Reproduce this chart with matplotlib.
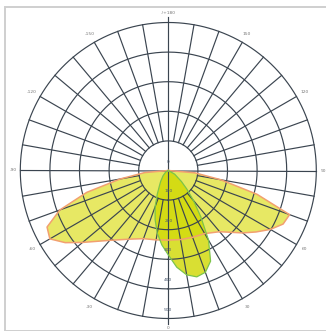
import matplotlib
matplotlib.use("Agg")
import matplotlib.pyplot as plt
from matplotlib.patches import Rectangle
import numpy as np

# C0-C180 plane (wide batwing), gamma in degrees, negative = left side
gamma_wide = [-90, -85, -80, -75, -70, -65, -60, -55, -50, -40, -30, -20, -10, 0,
              10, 20, 30, 40, 50, 55, 60, 65, 70, 75, 80, 85, 90]
int_wide = [0, 80, 165, 285, 390, 452, 462, 425, 378, 308, 268, 245, 238, 235,
            237, 240, 246, 270, 328, 362, 398, 428, 436, 310, 180, 90, 0]

# C90-C270 plane (narrow lobe)
gamma_narrow = [-90, -60, -45, -35, -30, -25, -20, -15, -10, -5, 0, 5, 10, 15,
                20, 25, 30, 35, 40, 45, 50, 60, 90]
int_narrow = [0, 10, 25, 45, 60, 88, 130, 172, 215, 252, 285, 328, 358, 372,
              366, 338, 272, 192, 132, 88, 58, 25, 0]

ring_values = [100, 200, 300, 400, 500]
ring_labels = ["100", "200", "300", "400", "500"]
angle_ticks = [180, -150, 150, -120, 120, -90, 90, -60, 60, -30, 30, 0]
angle_labels = ["-/+180", "-150", "150", "-120", "120", "-90", "90",
                "-60", "60", "-30", "30", "0"]

W, H = 326, 331
fig = plt.figure(figsize=(W / 100, H / 100), dpi=100)
fig.patch.set_facecolor("white")

# light grey frame round the diagram
fig.add_artist(Rectangle((5 / W, 0), 1.2, 1 - 7 / H, transform=fig.transFigure,
                         fill=False, edgecolor="#cfcfcf", linewidth=1.4))

rmax = 520
cx, cy, rpx = 168.3, 170.5, 148.0
half = rpx * rmax / 500
ax = fig.add_axes([(cx - half) / W, (H - cy - half) / H, 2 * half / W, 2 * half / H],
                  projection="polar")
ax.set_theta_zero_location("S")
ax.set_ylim(0, rmax)
ax.axis("off")

grid_c = "#3b4550"
lw = 0.85

# fills
tw = np.radians(gamma_wide)
tn = np.radians(gamma_narrow)
ax.fill(tw, int_wide, facecolor="#e2e442", alpha=0.82, edgecolor="none", zorder=2)
ax.fill(tn, int_narrow, facecolor="#d0d800", alpha=0.8, edgecolor="none", zorder=3)

# grid
th = np.linspace(0, 2 * np.pi, 361)
for rv in ring_values:
    ax.plot(th, [rv] * len(th), color=grid_c, lw=lw, zorder=4, clip_on=False)
for a in range(0, 360, 10):
    t = np.radians(a)
    if a % 90 == 0:
        continue
    ax.plot([t, t], [100, 500], color=grid_c, lw=lw, zorder=4, clip_on=False)
# main axes through the centre
ax.plot([0, np.pi], [518, 518], color=grid_c, lw=lw, zorder=4, clip_on=False)
ax.plot([np.pi / 2, -np.pi / 2], [500, 500], color=grid_c, lw=lw, zorder=4, clip_on=False)

# curve outlines
ax.plot(tw, int_wide, color="#f2a070", lw=1.1, zorder=5)
ax.plot(tn, int_narrow, color="#7cc44a", lw=0.9, zorder=5)

# labels
for a, lab in zip(angle_ticks, angle_labels):
    rr = 524 if abs(a) == 90 else 532
    ax.text(np.radians(a), rr, lab, fontsize=3.2, color="#777777",
            ha="center", va="center", zorder=6)
for rv, lab in zip(ring_values, ring_labels):
    ax.text(0, rv - 30, lab, fontsize=3.2, color="#4a5a70",
            ha="center", va="center", zorder=6)
ax.text(np.pi, 30, "0", fontsize=3.2, color="#4a5a70", ha="center", va="center", zorder=6)

fig.savefig("out.png", dpi=100, facecolor="white")
